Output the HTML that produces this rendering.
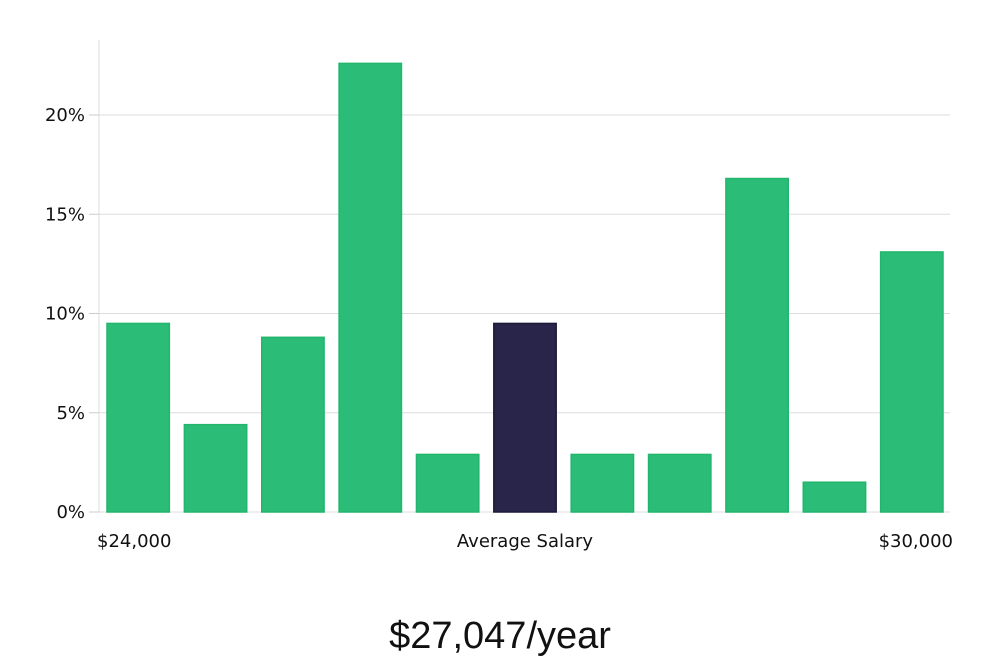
<!DOCTYPE html>
<html><head><meta charset="utf-8"><style>
html,body{margin:0;padding:0;background:#fff;width:1000px;height:660px;overflow:hidden}
svg text{font-family:"DejaVu Sans","Liberation Sans",sans-serif}
</style></head><body>
<svg id="chart" width="1000" height="660" xmlns="http://www.w3.org/2000/svg">
<g id="grid"></g>
<g id="bars"></g>
<g id="yaxis"></g>
<text x="97" y="547" font-size="18" fill="#111">$24,000</text>
<text x="525" y="547" font-size="18" fill="#111" text-anchor="middle">Average Salary</text>
<text x="953" y="547" font-size="18" fill="#111" text-anchor="end">$30,000</text>
<text x="500" y="648" font-size="38" fill="#111" text-anchor="middle" style="font-family:'Liberation Sans Narrow','Liberation Sans',sans-serif;font-weight:300">$27,047/year</text>
</svg>
<script>
const values = [9.5, 4.4, 8.8, 22.6, 2.9, 9.5, 2.9, 2.9, 16.8, 1.5, 13.1];
const highlightIndex = 5;
const yTicks = [0, 5, 10, 15, 20];
const yTickLabels = ["0%", "5%", "10%", "15%", "20%"];
const NS = "http://www.w3.org/2000/svg";
const x0 = 99, x1 = 950, yBase = 512, pxPerPct = 19.85;
const y = v => yBase - v * pxPerPct;
const band = (x1 - x0) / values.length;
const grid = document.getElementById('grid');
const yaxis = document.getElementById('yaxis');
const bars = document.getElementById('bars');
function mk(tag, attrs, parent){const e=document.createElementNS(NS,tag);for(const k in attrs)e.setAttribute(k,attrs[k]);parent.appendChild(e);return e;}
const axisLine = mk('line',{x1:x0,x2:x0,y1:40,y2:yBase,stroke:'#ddd','stroke-width':1},yaxis);


yTicks.forEach((t,i)=>{
  const gl = mk('line',{x1:x0,x2:x1,y1:y(t),y2:y(t),stroke:'#ddd','stroke-width':1},grid);
  
  
  const tk = mk('line',{x1:x0-10,x2:x0,y1:y(t),y2:y(t),stroke:'#ccc','stroke-width':1},yaxis);
  
  
  const tx = mk('text',{x:x0-14,y:y(t)+6,'font-size':18,fill:'#111','text-anchor':'end'},yaxis);
  tx.textContent = yTickLabels[i];
  
  
});
values.forEach((v,i)=>{
  const bx = x0 + i*band + 8;
  const r = mk('rect',{x:bx,y:y(v),width:band-15,height:yBase-y(v),
    fill: i===highlightIndex?'#28244a':'#2bbd77', stroke: i===highlightIndex?'#1c1838':'#22b56c','stroke-width':1.5},bars);
  
  
});
</script>
</body></html>
